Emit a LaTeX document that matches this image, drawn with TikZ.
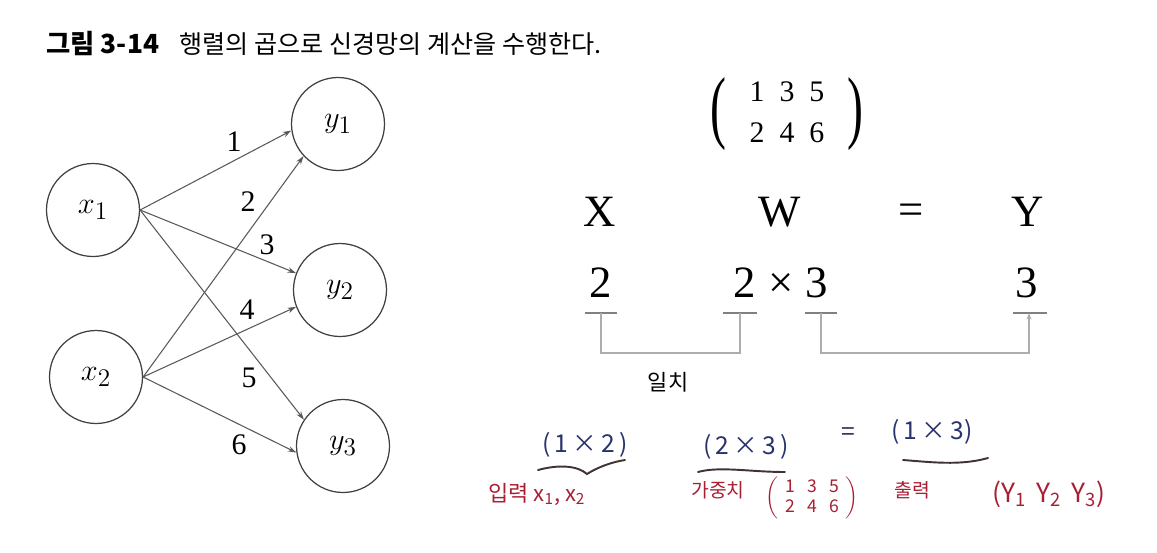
\documentclass[tikz,border=0pt]{standalone}
\usepackage{graphicx}
\usepackage{fontspec}
\setmainfont{Liberation Serif}
\newfontfamily\kr{Noto Sans CJK KR}
\usetikzlibrary{arrows.meta}
\definecolor{NodeClr}{rgb}{0.25,0.25,0.25}
\definecolor{EdgeClr}{rgb}{0.35,0.35,0.35}
\definecolor{BrkClr}{rgb}{0.68,0.68,0.68}
\definecolor{TickClr}{rgb}{0.5,0.5,0.5}
\definecolor{PenBlue}{rgb}{0.16,0.2,0.42}
\definecolor{PenRed}{rgb}{0.66,0.12,0.2}
\definecolor{PenDark}{rgb}{0.25,0.2,0.2}

\begin{document}
\begin{tikzpicture}[x=0.02cm,y=-0.02cm,
  neuron/.style={circle,draw=NodeClr,line width=0.7pt,minimum size=1.86cm,inner sep=0pt,font=\fontsize{19}{22}\selectfont},
  wire/.style={draw=EdgeClr,line width=0.6pt,-{Stealth[length=1.7mm,width=1.1mm]}},
  wlab/.style={inner sep=0pt,font=\fontsize{17}{20}\selectfont},
  bigsym/.style={inner sep=0pt,font=\fontsize{25.5}{30}\selectfont},
  tick/.style={draw=TickClr,line width=0.9pt},
  bracket/.style={draw=BrkClr,line width=0.9pt},
  pen/.style={inner sep=0pt,text=PenBlue,font=\kr\fontsize{14}{16}\selectfont},
  redpen/.style={inner sep=0pt,text=PenRed,font=\kr\fontsize{11}{13}\selectfont},
  stroke/.style={draw=PenDark,line width=1.1pt,line cap=round}]

\useasboundingbox[fill=white] (0,0) rectangle (1157,552);

\node[anchor=west,inner sep=0pt,font=\kr\bfseries\fontsize{15}{17}\selectfont] (ttlA) at (46,44) {그림 3-14};
\node[anchor=west,inner sep=0pt,font=\kr\fontsize{14.3}{17}\selectfont] (ttlB) at (179,44) {행렬의 곱으로 신경망의 계산을 수행한다.};

\node[neuron] (X1) at (93,210) {$x_1$};
\node[neuron] (X2) at (96,377) {$x_2$};
\node[neuron] (Y1) at (338,124) {$y_1$};
\node[neuron] (Y2) at (340,290) {$y_2$};
\node[neuron] (Y3) at (343,446) {$y_3$};

\draw[wire] (X1.east) -- (Y1.188);
\draw[wire] (X2.east) -- (Y1.223);
\draw[wire] (X1.east) -- (Y2.159);
\draw[wire] (X2.east) -- (Y2.201);
\draw[wire] (X1.east) -- (Y3.146);
\draw[wire] (X2.east) -- (Y3.188);

\node[wlab] (W1) at (234,142) {1};
\node[wlab] (W2) at (248,202) {2};
\node[wlab] (W3) at (267,245) {3};
\node[wlab] (W4) at (247,310) {4};
\node[wlab] (W5) at (249,378) {5};
\node[wlab] (W6) at (239,445) {6};

\renewcommand{\arraystretch}{0.95}
\node[inner sep=0pt,font=\fontsize{17}{24}\selectfont] (Wmat) at (787,114)
  {\begin{tabular}{@{}c@{\hspace{0.5em}}c@{\hspace{0.5em}}c@{}}1&3&5\\2&4&6\end{tabular}};
\node[inner sep=0pt,font=\fontsize{17}{20}\selectfont] (parL) at (718,114) {\scalebox{1.6}[2.7]{(}};
\node[inner sep=0pt,font=\fontsize{17}{20}\selectfont] (parR) at (855,114) {\scalebox{1.6}[2.7]{)}};

\node[bigsym] (symX) at (600,212) {X};
\node[bigsym] (symW) at (780,212) {W};
\node[bigsym] (symEq) at (911,214) {=};
\node[bigsym] (symY) at (1028,212) {Y};

\node[bigsym] (dimX) at (601,283) {2};
\node[bigsym] (dimWa) at (745,283) {2};
\node[bigsym] (dimTm) at (781,285) {×};
\node[bigsym] (dimWb) at (817,283) {3};
\node[bigsym] (dimY) at (1027,283) {3};

\coordinate (tX) at (601,313);
\coordinate (tWa) at (740,313);
\coordinate (tWb) at (821,313);
\coordinate (tY) at (1029,313);

\draw[tick] (585,313) -- (617,313);
\draw[tick] (723,313) -- (757,313);
\draw[tick] (805,313) -- (837,313);
\draw[tick] (1013,313) -- (1047,313);

\draw[bracket] (tX) -- ++(0,40) -| (tWa);
\draw[bracket,-{Stealth[length=1.3mm,width=1mm]}] (tWb) -- ++(0,40) -| (tY);

\node[inner sep=0pt,font=\kr\fontsize{12.5}{15}\selectfont] (match) at (668,382) {일치};

\node[pen] (hX) at (585,445) {(\,1\,×\,2\,)};
\node[pen] (hW) at (746,447) {(\,2\,×\,3\,)};
\node[pen] (hEq) at (848,434) {=};
\node[pen] (hY) at (932,432) {(\,1\,×\,3)};

\draw[stroke] (538,470) .. controls (560,464) and (578,466) .. (587,474) .. controls (598,467) and (612,462) .. (625,460);
\draw[stroke] (698,472) .. controls (720,466) and (750,472) .. (785,472);
\draw[stroke] (903,460) .. controls (930,462) and (960,466) .. (988,458);

\node[redpen,anchor=west,font=\kr\fontsize{12.5}{14}\selectfont] (inX) at (488,494) {입력 x\textsubscript{1}, x\textsubscript{2}};
\node[redpen] (inW) at (718,490) {가중치};
\node[redpen,font=\kr\fontsize{10}{12}\selectfont] (inWm) at (812,498)
  {$\left(\begin{tabular}{@{\hspace{0.4em}}c@{\hspace{0.7em}}c@{\hspace{0.7em}}c@{\hspace{0.4em}}}1&3&5\\2&4&6\end{tabular}\right)$};
\node[redpen] (outY) at (912,490) {출력};
\node[redpen,font=\kr\fontsize{15}{17}\selectfont] (outYv) at (1049,494) {(Y\textsubscript{1}\, Y\textsubscript{2}\, Y\textsubscript{3})};

\end{tikzpicture}
\end{document}
